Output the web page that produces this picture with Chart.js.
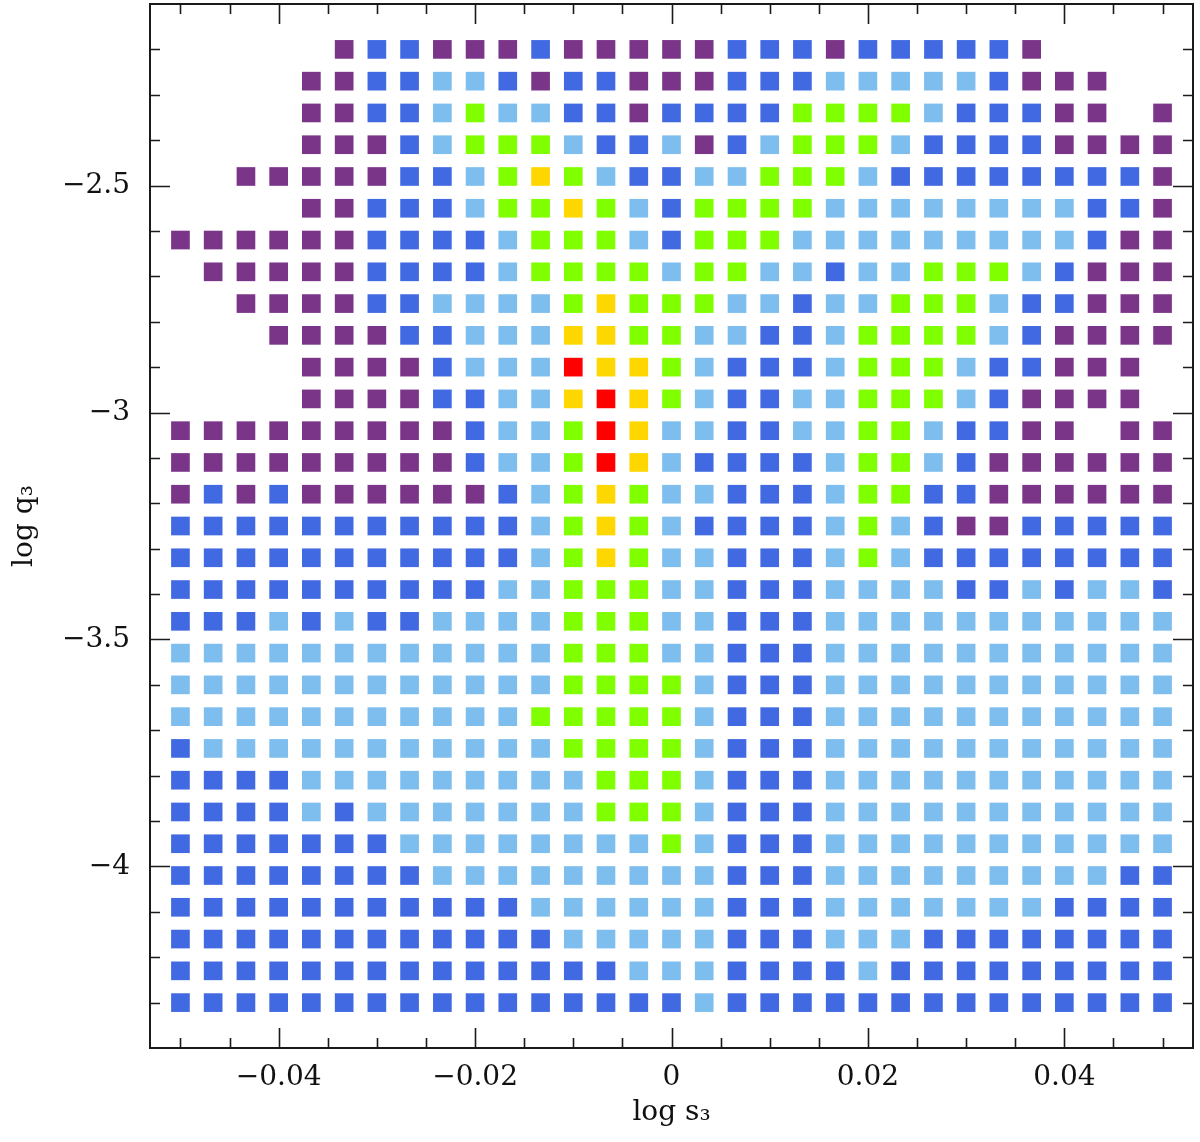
<!DOCTYPE html>
<html>
<head>
<meta charset="utf-8">
<script src="https://cdn.jsdelivr.net/npm/chart.js@4/dist/chart.umd.min.js"></script>
<style>
  html, body { margin: 0; padding: 0; background: #ffffff; }
  #wrap { width: 1200px; height: 1142px; }
</style>
</head>
<body>
<div id="wrap"><canvas id="c" width="1200" height="1142"></canvas></div>
<script>
// ---- data ----
const xValues = [-0.05, -0.04667, -0.04333, -0.04, -0.03667, -0.03333, -0.03, -0.02667, -0.02333, -0.02,
  -0.01667, -0.01333, -0.01, -0.00667, -0.00333, 0, 0.00333, 0.00667, 0.01, 0.01333,
  0.01667, 0.02, 0.02333, 0.02667, 0.03, 0.03333, 0.03667, 0.04, 0.04333, 0.04667, 0.05];

const yValues = [-2.2, -2.27, -2.34, -2.41, -2.48, -2.55, -2.62, -2.69, -2.76, -2.83,
  -2.9, -2.97, -3.04, -3.11, -3.18, -3.25, -3.32, -3.39, -3.46, -3.53,
  -3.6, -3.67, -3.74, -3.81, -3.88, -3.95, -4.02, -4.09, -4.16, -4.23, -4.3];

// one string per row (top row first), one character per column:
// P purple, B blue, L light blue, G green, Y gold, R red, . no cell
const gridRows = [
  ".....PBBPPPBPPPPPBBBPBBBBBP....",
  "....PPBBLLBPBBPPPBBBLLLLLBPPP..",
  "....PPBBLGLLBBPBBBBGGGGLBBBPP.P",
  "....PPPBLGGGLBBLPBLGGGLBBBBPPPP",
  "..PPPPPBBLGYGLBBLLGGGLBBBBBBBBP",
  "....PPBBBLGGYGLBGGGGLLLLLLLLBBP",
  "PPPPPPBBBBLGGGLBGGGLLLLLLLLLBPP",
  ".PPPPPBBBBLGGGGLGGLLBLLGGGLBPPP",
  "..PPPPBBLLLLGYGGGLLBLLGGGLBBPPP",
  "...PPPPBBLLLYYGGLLBBLGGGGLBPPPP",
  "....PPPPBLLLRYYGLBBBLGGGLBBPPP.",
  "....PPPPBBLLYRYGLBBLLGGGLBPPPP.",
  "PPPPPPPPPBLLGRYLLBBLLGGLBBPP.PP",
  "PPPPPPPPPBLLGRYLBBBBLGGLBPPPPPP",
  "PBPBPPPPPPBLGYGLLBBBLGGBBPPPPPP",
  "BBBBBBBBBBBLGYGLBBBBLGLBPPBBBBB",
  "BBBBBBBBBBBLGYGLLBBBLGLBBBBBBBB",
  "BBBBBBBBBBLLGGGLLBBBLLLLBBLBLLB",
  "BBBLBLBBLLLLGGGLLBBBLLLLLLLLLLL",
  "LLLLLLLLLLLLGGGLLBBBLLLLLLLLLLL",
  "LLLLLLLLLLLLGGGGLBBBLLLLLLLLLLL",
  "LLLLLLLLLLLGGGGGLBBBLLLLLLLLLLL",
  "BLLLLLLLLLLLGGGGLBBBLLLLLLLLLLL",
  "BBBBLLLLLLLLLGGGLBBBLLLLLLLLLLL",
  "BBBBLBLLLLLLLGGGLBBBLLLLLLLLLLL",
  "BBBBBBBLLLLLLLLGLBBBLLLLLLLLLLL",
  "BBBBBBBBLLLLLLLLLBBBLLLLLLLLLBB",
  "BBBBBBBBBBBLLLLLLBBBLLLLLLLBBBB",
  "BBBBBBBBBBBBLLLLLBBBLLLBBBBBBBB",
  "BBBBBBBBBBBBBBLLLBBBBLBBBBBBBBB",
  "BBBBBBBBBBBBBBBBLBBBBBBBBBBBBBB"
];

const classKeys   = ["P", "B", "L", "G", "Y", "R"];
const classNames  = ["purple", "blue", "light blue", "green", "gold", "red"];
const classColors = ["#7A3589", "#4169E1", "#7DBEEE", "#7FFF00", "#FFD700", "#FF0000"];

const xMajorTicks  = [-0.04, -0.02, 0, 0.02, 0.04];
const xMajorLabels = ["\u22120.04", "\u22120.02", "0", "0.02", "0.04"];
const xMinorTicks  = [-0.05, -0.045, -0.035, -0.03, -0.025, -0.015, -0.01, -0.005,
  0.005, 0.01, 0.015, 0.025, 0.03, 0.035, 0.045, 0.05];
const yMajorTicks  = [-4, -3.5, -3, -2.5];
const yMajorLabels = ["\u22124", "\u22123.5", "\u22123", "\u22122.5"];
const yMinorTicks  = [-2.2, -2.3, -2.4, -2.6, -2.7, -2.8, -2.9, -3.1, -3.2, -3.3, -3.4,
  -3.6, -3.7, -3.8, -3.9, -4.1, -4.2, -4.3];

const xTitle = "log s\u2083";
const yTitle = "log q\u2083";

// ---- build datasets ----
const datasets = classKeys.map((k, i) => {
  const pts = [];
  gridRows.forEach((row, r) => {
    for (let c = 0; c < row.length; c++) {
      if (row[c] === k) pts.push({ x: xValues[c], y: yValues[r] });
    }
  });
  return {
    label: classNames[i],
    data: pts,
    pointStyle: "rect",
    pointRadius: 13.2,
    pointHoverRadius: 13.2,
    backgroundColor: classColors[i],
    borderWidth: 0,
    showLine: false
  };
});

const FONT = "'DejaVu Serif', 'Liberation Serif', serif";

const frameTicks = {
  id: "frameTicks",
  afterDatasetsDraw(chart) {
    const { ctx, chartArea: a, scales } = chart;
    const xs = scales.x, ys = scales.y;
    ctx.save();
    ctx.strokeStyle = "#1a1a1a";
    ctx.lineWidth = 2;
    ctx.strokeRect(a.left, a.top, a.right - a.left, a.bottom - a.top);
    const drawX = (vals, len) => {
      vals.forEach(v => {
        const p = Math.round(xs.getPixelForValue(v)) + 0.5;
        ctx.beginPath();
        ctx.moveTo(p, a.bottom); ctx.lineTo(p, a.bottom - len);
        ctx.moveTo(p, a.top); ctx.lineTo(p, a.top + len);
        ctx.stroke();
      });
    };
    const drawY = (vals, len) => {
      vals.forEach(v => {
        const p = Math.round(ys.getPixelForValue(v)) + 0.5;
        ctx.beginPath();
        ctx.moveTo(a.left, p); ctx.lineTo(a.left + len, p);
        ctx.moveTo(a.right, p); ctx.lineTo(a.right - len, p);
        ctx.stroke();
      });
    };
    ctx.lineWidth = 1.6;
    drawX(xMinorTicks, 10);
    drawX(xMajorTicks, 20);
    drawY(yMinorTicks, 10);
    drawY(yMajorTicks, 20);
    ctx.restore();
  }
};

function noPad(scale) {
  scale.paddingTop = 0;
  scale.paddingBottom = 0;
  scale.paddingLeft = 0;
  scale.paddingRight = 0;
}

new Chart(document.getElementById("c"), {
  type: "scatter",
  data: { datasets },
  options: {
    responsive: false,
    devicePixelRatio: 1,
    animation: false,
    events: [],
    layout: { autoPadding: false, padding: { top: 4, right: 7, left: 0, bottom: 0 } },
    plugins: { legend: { display: false }, tooltip: { enabled: false } },
    scales: {
      x: {
        type: "linear",
        min: -0.0531,
        max: 0.0531,
        afterFit(scale) { scale.height = 94; noPad(scale); },
        afterBuildTicks(scale) { scale.ticks = xMajorTicks.map(v => ({ value: v })); },
        grid: { display: false, drawTicks: false },
        border: { display: false },
        ticks: {
          autoSkip: false,
          maxRotation: 0,
          padding: 13,
          color: "#111",
          font: { family: FONT, size: 28 },
          callback: (v, i) => xMajorLabels[i]
        },
        title: {
          display: true,
          text: xTitle,
          color: "#111",
          font: { family: FONT, size: 28 },
          padding: { top: 0, bottom: 12 }
        }
      },
      y: {
        type: "linear",
        min: -4.4,
        max: -2.1,
        afterFit(scale) { scale.width = 150; noPad(scale); },
        afterBuildTicks(scale) { scale.ticks = yMajorTicks.map(v => ({ value: v })); },
        grid: { display: false, drawTicks: false },
        border: { display: false },
        ticks: {
          autoSkip: false,
          padding: 20,
          color: "#111",
          font: { family: FONT, size: 28 },
          callback: (v, i) => yMajorLabels[i]
        },
        title: {
          display: true,
          text: yTitle,
          color: "#111",
          font: { family: FONT, size: 28 },
          padding: { top: 8, bottom: 0 }
        }
      }
    }
  },
  plugins: [frameTicks]
});
</script>
</body>
</html>
